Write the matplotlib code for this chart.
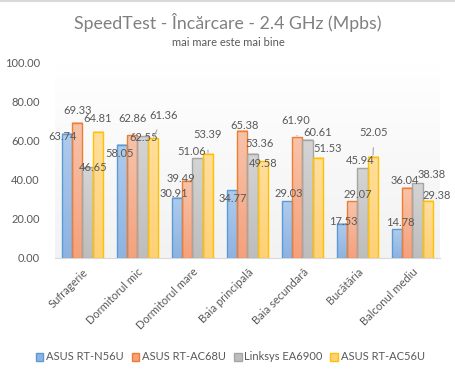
import numpy as np
import matplotlib.pyplot as plt
from matplotlib.colors import LinearSegmentedColormap
from matplotlib.patches import Patch
from matplotlib.lines import Line2D

plt.rcParams['font.family'] = ['Lato', 'DejaVu Sans']

# Date
locatii = ['Sufragerie', 'Dormitorul mic', 'Dormitorul mare', 'Baia principală',
           'Baia secundară', 'Bucătăria', 'Balconul mediu']
routere = ['ASUS RT-N56U', 'ASUS RT-AC68U', 'Linksys EA6900', 'ASUS RT-AC56U']
rt_n56u = [63.74, 58.05, 30.91, 34.77, 29.03, 17.53, 14.78]
rt_ac68u = [69.33, 62.86, 39.49, 65.38, 61.90, 29.07, 36.04]
ea6900 = [46.65, 62.55, 51.06, 53.36, 60.61, 45.94, 38.38]
rt_ac56u = [64.81, 61.36, 53.39, 49.58, 51.53, 52.05, 29.38]
serii = [rt_n56u, rt_ac68u, ea6900, rt_ac56u]

# culori: margine, sus, jos
margini = ['#5B9BD5', '#ED7D31', '#A5A5A5', '#FFC000']
sus = ['#AECBEC', '#F8C3AA', '#D4D4D4', '#FFDE9C']
jos = ['#8DB3E2', '#F5A17C', '#BDBDBD', '#FFD175']

# pozitia etichetelor (pixeli fata de varful barei), per serie, per locatie
dx = [[-4, -2, -3, 1, 2, 1, 3],
      [0, 0, -6, 2, -2, 5, -3],
      [5, 1, -6, 7, 10, -2, 14],
      [0, 11, 0, 0, 10, 1, 9]]
dy = [[-3, -9, 4, -8, 8, 2, 7],
      [12, 17, 2, 5, 17, 7, 7],
      [0, -1, 7, 10, 7, 8, 9],
      [13, 23, 19, -2, 9, 24, 5]]

fig = plt.figure(figsize=(4.56, 3.77), dpi=100)
ax = fig.add_axes([55/456, 1-258/377, 385/456, 195/377])

# fundal cu gradient
fundal = LinearSegmentedColormap.from_list('fundal', ['#F2F2F2', '#FFFFFF'])
ax.imshow(np.linspace(0, 1, 100).reshape(-1, 1), cmap=fundal, aspect='auto',
          extent=(-0.5, 6.5, 0, 100), origin='lower', zorder=0)

x = np.arange(len(locatii))
w = 0.1875
gri = '#595959'
for i, serie in enumerate(serii):
    poz = x + (i - 1.5) * w
    bare = ax.bar(poz, serie, width=w, facecolor='none', edgecolor=margini[i],
                  linewidth=1.0, zorder=3)
    cmap = LinearSegmentedColormap.from_list('c%d' % i, [jos[i], sus[i]])
    for b in bare:
        ax.imshow(np.linspace(0, 1, 50).reshape(-1, 1), cmap=cmap, aspect='auto',
                  origin='lower', zorder=2,
                  extent=(b.get_x(), b.get_x() + b.get_width(), 0, b.get_height()))
    for j, v in enumerate(serie):
        leader = dy[i][j] >= 17
        ax.annotate('%.2f' % v, xy=(poz[j], v),
                    xytext=(dx[i][j], dy[i][j]), textcoords='offset pixels',
                    ha='center', va='center', fontsize=8, color=gri, zorder=5,
                    arrowprops=dict(arrowstyle='-', color='#A6A6A6', lw=0.8,
                                    shrinkA=5, shrinkB=1) if leader else None)

ax.set_xlim(-0.5, 6.5)
ax.set_ylim(0, 100)
ax.set_yticks(np.arange(0, 101, 20))
ax.set_yticklabels(['%.2f' % t for t in np.arange(0, 101, 20)])
ax.set_xticks(x)
ax.set_xticklabels(locatii, rotation=45, ha='right', va='top',
                   rotation_mode='anchor', fontsize=8.3)
ax.tick_params(length=0, colors=gri, labelsize=8)
ax.tick_params(axis='y', pad=11)
ax.tick_params(axis='x', pad=6)
for s in ['top', 'right', 'left']:
    ax.spines[s].set_visible(False)
ax.spines['bottom'].set_color('#D9D9D9')

fig.text(0.5, 1-22/377, 'SpeedTest - Încărcare - 2.4 GHz (Mpbs)', ha='center',
         va='center', fontsize=12.8, color='#808080')
fig.text(0.5, 1-42/377, 'mai mare este mai bine', ha='center', va='center',
         fontsize=8, color=gri)

manere = [Patch(facecolor=jos[i], edgecolor=margini[i]) for i in range(4)]
fig.legend(manere, routere, loc='center', bbox_to_anchor=(0.505, 1-357/377), ncol=4,
           frameon=False, fontsize=8, labelcolor=gri, handlelength=0.7,
           handleheight=0.7, handletextpad=0.25, columnspacing=0.7,
           borderpad=0, borderaxespad=0)

fig.add_artist(Line2D([0, 1], [0.998, 0.998], color='#D9D9D9', lw=1.5))

fig.savefig('out.png', dpi=100)
